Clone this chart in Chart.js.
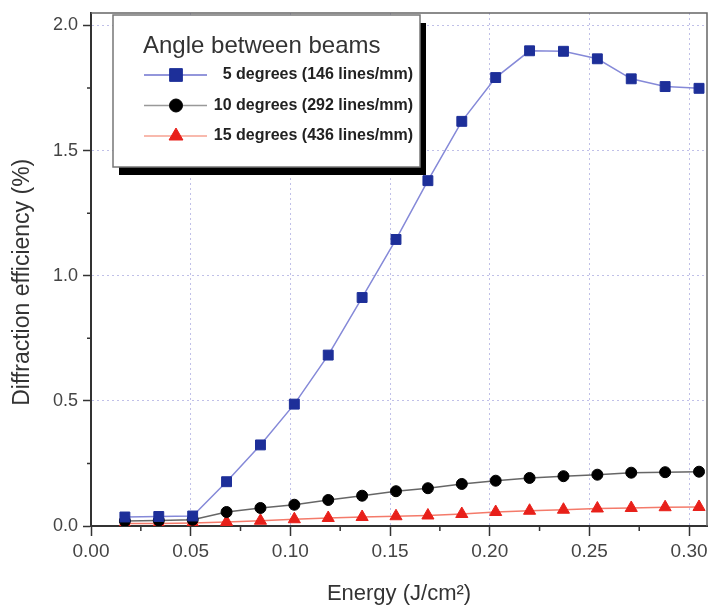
<!DOCTYPE html>
<html>
<head>
<meta charset="utf-8">
<script src="https://cdn.jsdelivr.net/npm/chart.js@4/dist/chart.umd.min.js"></script>
<style>
  html, body { margin: 0; padding: 0; background: #fff; }
</style>
</head>
<body>
<canvas id="myChart" width="709" height="607"></canvas>
<script>
var energy = [0.017, 0.034, 0.051, 0.068, 0.085, 0.102, 0.119, 0.136, 0.153,
              0.169, 0.186, 0.203, 0.220, 0.237, 0.254, 0.271, 0.288, 0.305];
var deg5 = [0.036, 0.038, 0.040, 0.177, 0.324, 0.487, 0.683, 0.913, 1.145,
            1.380, 1.617, 1.792, 1.899, 1.897, 1.867, 1.787, 1.756, 1.749];
var deg10 = [0.020, 0.022, 0.025, 0.056, 0.072, 0.085, 0.104, 0.121, 0.139,
             0.151, 0.168, 0.181, 0.192, 0.199, 0.205, 0.213, 0.215, 0.217];
var deg15 = [0.010, 0.010, 0.012, 0.016, 0.021, 0.027, 0.032, 0.036, 0.039,
             0.042, 0.048, 0.056, 0.061, 0.065, 0.070, 0.072, 0.075, 0.076];
var seriesLabels = ["5 degrees (146 lines/mm)", "10 degrees (292 lines/mm)", "15 degrees (436 lines/mm)"];
var legendTitle = "Angle between beams";
var xTickValues = [0, 0.05, 0.10, 0.15, 0.20, 0.25, 0.30];
var yTickValues = [0, 0.5, 1.0, 1.5, 2.0];
var xMinorTicks = [0.025, 0.075, 0.125, 0.175, 0.225, 0.275];
var yMinorTicks = [0.25, 0.75, 1.25, 1.75];

function pts(ys) {
  return energy.map(function(x, i) { return {x: x, y: ys[i]}; });
}

var gridColor = 'rgba(130,130,210,0.5)';
function gridCol(c) {
  return (c.tick && c.tick.value === 0) ? 'rgba(0,0,0,0)' : gridColor;
}

// box round the plot + minor ticks
var frame = {
  id: 'frame',
  afterDraw: function(chart) {
    var ctx = chart.ctx, a = chart.chartArea;
    var xs = chart.scales.x, ys = chart.scales.y;
    ctx.save();
    ctx.strokeStyle = '#666';
    ctx.lineWidth = 1.5;
    ctx.beginPath();
    ctx.moveTo(a.left, a.top);
    ctx.lineTo(a.right, a.top);
    ctx.lineTo(a.right, a.bottom);
    ctx.stroke();
    ctx.strokeStyle = '#333';
    ctx.lineWidth = 1.5;
    ctx.beginPath();
    xMinorTicks.forEach(function(v) {
      var px = xs.getPixelForValue(v);
      ctx.moveTo(px, a.bottom);
      ctx.lineTo(px, a.bottom + 5);
    });
    yMinorTicks.forEach(function(v) {
      var py = ys.getPixelForValue(v);
      ctx.moveTo(a.left, py);
      ctx.lineTo(a.left - 4, py);
    });
    ctx.stroke();
    ctx.restore();
  }
};

// legend in a box with a drop shadow
var boxLegend = {
  id: 'boxLegend',
  afterDraw: function(chart) {
    var ctx = chart.ctx;
    var bx = 113, by = 15, bw = 307, bh = 152;
    ctx.save();
    ctx.fillStyle = '#000';
    ctx.fillRect(bx + 6, by + 8, bw, bh);
    ctx.fillStyle = '#fff';
    ctx.fillRect(bx, by, bw, bh);
    ctx.strokeStyle = '#777';
    ctx.lineWidth = 1.5;
    ctx.strokeRect(bx, by, bw, bh);

    ctx.fillStyle = '#333';
    ctx.font = '24px "Liberation Sans", Arial, sans-serif';
    ctx.textBaseline = 'middle';
    ctx.textAlign = 'left';
    ctx.fillText(legendTitle, 143, 46);

    var radii = [9, 6.5, 8];
    chart.data.datasets.forEach(function(ds, i) {
      var y = 75 + i * 30.5;
      ctx.strokeStyle = ds.legendLine;
      ctx.lineWidth = 1.5;
      ctx.beginPath();
      ctx.moveTo(144, y);
      ctx.lineTo(207, y);
      ctx.stroke();
      ctx.fillStyle = ds.pointBackgroundColor;
      ctx.strokeStyle = ds.pointBorderColor;
      ctx.lineWidth = 1;
      Chart.helpers.drawPoint(ctx, {pointStyle: ds.pointStyle, radius: radii[i], rotation: 0, borderWidth: 1}, 176, y);
      ctx.fillStyle = '#222';
      ctx.font = 'bold 16px "Liberation Sans", Arial, sans-serif';
      ctx.textAlign = 'right';
      ctx.fillText(ds.label, 413, y);
    });
    ctx.restore();
  }
};

var ctx = "myChart";
var chart = new Chart(ctx, {
  type: "line",
  data: {
    datasets: [{
      label: seriesLabels[0],
      data: pts(deg5),
      borderColor: '#8589d8',
      legendLine: '#6f73cf',
      borderWidth: 1.5,
      pointStyle: 'rect',
      pointRadius: 7,
      pointBackgroundColor: '#1d2f99',
      pointBorderColor: '#1d2f99',
      pointBorderWidth: 1
    }, {
      label: seriesLabels[1],
      data: pts(deg10),
      borderColor: '#666',
      legendLine: '#999',
      borderWidth: 1.5,
      pointStyle: 'circle',
      pointRadius: 5.5,
      pointBackgroundColor: '#000',
      pointBorderColor: '#000',
      pointBorderWidth: 1
    }, {
      label: seriesLabels[2],
      data: pts(deg15),
      borderColor: '#f47a6a',
      legendLine: '#f6a292',
      borderWidth: 1.5,
      pointStyle: 'triangle',
      pointRadius: 7,
      pointBackgroundColor: '#e8201a',
      pointBorderColor: '#e8201a',
      pointBorderWidth: 1
    }]
  },
  options: {
    responsive: false,
    animation: false,
    layout: { autoPadding: false, padding: { top: 13, right: 2, left: 0, bottom: 0 } },
    plugins: {
      legend: { display: false },
      tooltip: { enabled: false }
    },
    scales: {
      x: {
        type: 'linear',
        min: 0,
        max: 0.309,
        afterBuildTicks: function(s) { s.ticks = xTickValues.map(function(v) { return {value: v}; }); },
        afterFit: function(s) { s.height = 81; s.paddingLeft = 0; s.paddingRight = 0; },
        ticks: {
          color: '#444',
          padding: 4,
          maxRotation: 0,
          font: { family: '"Liberation Sans", Arial, sans-serif', size: 19 },
          callback: function(v) { return Number(v).toFixed(2); }
        },
        grid: { color: gridCol, tickColor: '#333', tickLength: 10, tickWidth: 1.5 },
        border: { color: '#333', width: 2, dash: [2, 3] },
        title: {
          display: true,
          text: 'Energy (J/cm²)',
          color: '#333',
          font: { family: '"Liberation Sans", Arial, sans-serif', size: 22 },
          padding: { top: 0, bottom: 0 }
        }
      },
      y: {
        min: 0,
        max: 2.05,
        afterBuildTicks: function(s) { s.ticks = yTickValues.map(function(v) { return {value: v}; }); },
        afterFit: function(s) { s.width = 91; s.paddingTop = 0; s.paddingBottom = 0; },
        ticks: {
          color: '#444',
          padding: 5,
          font: { family: '"Liberation Sans", Arial, sans-serif', size: 18 },
          callback: function(v) { return Number(v).toFixed(1); }
        },
        grid: { color: gridCol, tickColor: '#333', tickLength: 8, tickWidth: 1.5 },
        border: { color: '#333', width: 2, dash: [2, 3] },
        title: {
          display: true,
          text: 'Diffraction efficiency (%)    ',
          color: '#333',
          font: { family: '"Liberation Sans", Arial, sans-serif', size: 23 },
          padding: { top: 9, bottom: 0 }
        }
      }
    }
  },
  plugins: [frame, boxLegend]
});
</script>
</body>
</html>
